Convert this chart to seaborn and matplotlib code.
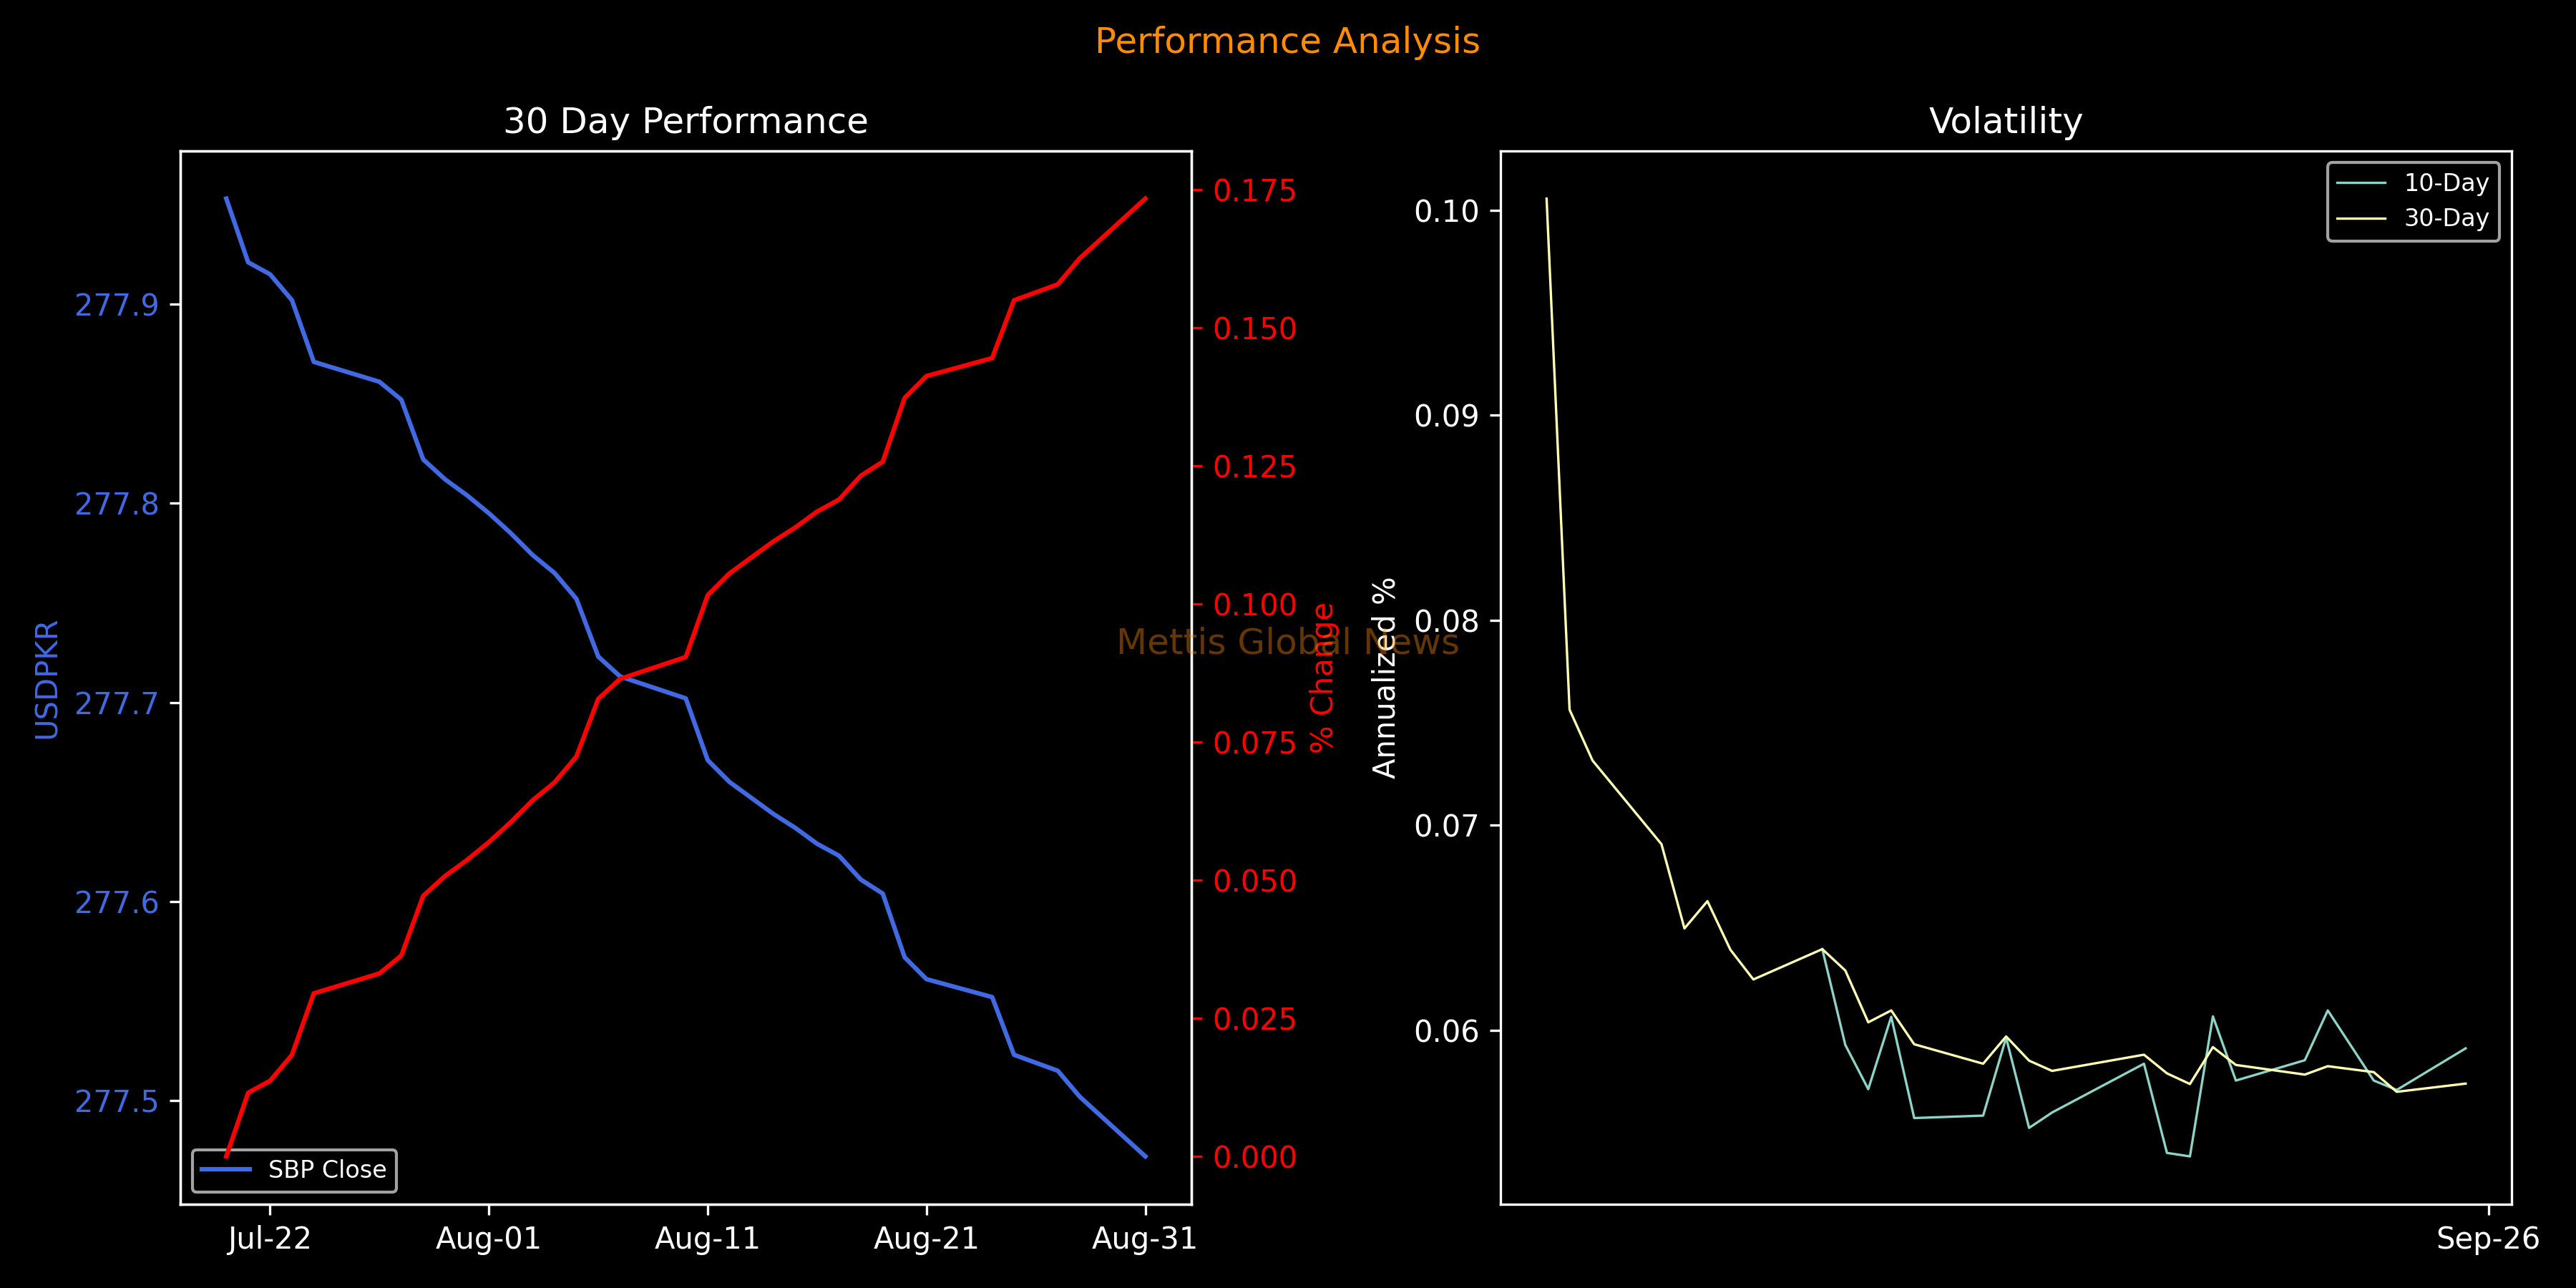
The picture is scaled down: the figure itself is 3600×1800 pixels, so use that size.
import matplotlib
matplotlib.use("Agg")
import matplotlib.pyplot as plt
import matplotlib.dates as mdates
import pandas as pd
import seaborn as sns

# USD/PKR closes (last 30 days)
close_dates = pd.to_datetime([
    "2023-07-20", "2023-07-21", "2023-07-22", "2023-07-23", "2023-07-24",
    "2023-07-27", "2023-07-28", "2023-07-29", "2023-07-30", "2023-07-31",
    "2023-08-01", "2023-08-02", "2023-08-03", "2023-08-04", "2023-08-05",
    "2023-08-06", "2023-08-07", "2023-08-10", "2023-08-11", "2023-08-12",
    "2023-08-13", "2023-08-14", "2023-08-15", "2023-08-16", "2023-08-17",
    "2023-08-18", "2023-08-19", "2023-08-20", "2023-08-21", "2023-08-24",
    "2023-08-25", "2023-08-26", "2023-08-27", "2023-08-28", "2023-08-31",
])
close_vals = [
    277.953, 277.921, 277.915, 277.902, 277.871,
    277.861, 277.852, 277.822, 277.812, 277.804,
    277.795, 277.785, 277.774, 277.765, 277.752,
    277.723, 277.713, 277.702, 277.671, 277.660,
    277.652, 277.644, 277.637, 277.629, 277.623,
    277.611, 277.604, 277.572, 277.561, 277.552,
    277.523, 277.519, 277.515, 277.502, 277.472,
]

# volatility
vol_dates = pd.to_datetime([
    "2023-08-16", "2023-08-17", "2023-08-18", "2023-08-21", "2023-08-22",
    "2023-08-23", "2023-08-24", "2023-08-25", "2023-08-28", "2023-08-29",
    "2023-08-30", "2023-08-31", "2023-09-01", "2023-09-04", "2023-09-05",
    "2023-09-06", "2023-09-07", "2023-09-11", "2023-09-12", "2023-09-13",
    "2023-09-14", "2023-09-15", "2023-09-18", "2023-09-19", "2023-09-21",
    "2023-09-22", "2023-09-25",
])
vol_30 = [
    0.10056, 0.07563, 0.07315, 0.06907, 0.06496,
    0.06629, 0.06392, 0.06247, 0.06395, 0.06291,
    0.06038, 0.06096, 0.05931, 0.05836, 0.05969,
    0.05851, 0.05801, 0.05880, 0.05789, 0.05737,
    0.05917, 0.05830, 0.05783, 0.05824, 0.05795,
    0.05699, 0.05739,
]
vol_10 = [
    None, None, None, None, None,
    None, None, None, 0.06395, 0.05928,
    0.05712, 0.06065, 0.05571, 0.05583, 0.05963,
    0.05523, 0.05598, 0.05836, 0.05401, 0.05384,
    0.06067, 0.05754, 0.05853, 0.06096, 0.05754,
    0.05708, 0.05911,
]

plt.style.use("dark_background")
plt.rcParams["font.family"] = ["DejaVu Sans"]

perf = pd.DataFrame({"date": close_dates, "close": close_vals})
perf["pct"] = (perf["close"].iloc[0] / perf["close"] - 1) * 100
vol = pd.DataFrame({"date": vol_dates, "10-Day": vol_10, "30-Day": vol_30})
vol["10-Day"] = vol["10-Day"].astype(float)

fig, (ax1, ax3) = plt.subplots(1, 2, figsize=(12, 6))
fig.subplots_adjust(left=0.07, right=0.975, top=0.883, bottom=0.065, wspace=0.306)

sns.lineplot(data=perf, x="date", y="close", ax=ax1, color="royalblue", label="SBP Close")
ax2 = ax1.twinx()
sns.lineplot(data=perf, x="date", y="pct", ax=ax2, color="red")
ax1.set_xticks(pd.date_range("2023-07-22", periods=5, freq="10D"))
ax1.xaxis.set_major_formatter(mdates.DateFormatter("%b-%d"))
ax1.set_xlabel("")
ax1.set_ylabel("USDPKR", color="royalblue")
ax1.tick_params(axis="y", labelcolor="royalblue")
ax2.set_ylabel("% Change", color="red")
ax2.tick_params(axis="y", colors="red")
ax1.set_title("30 Day Performance")
ax1.legend(loc="lower left", fontsize=8)

sns.lineplot(data=vol, x="date", y="10-Day", ax=ax3, color="#8dd3c7", linewidth=0.8, label="10-Day")
sns.lineplot(data=vol, x="date", y="30-Day", ax=ax3, color="#ffffb3", linewidth=0.8, label="30-Day")
ax3.set_xticks([pd.Timestamp("2023-09-26")])
ax3.xaxis.set_major_formatter(mdates.DateFormatter("%b-%d"))
ax3.set_xlabel("")
ax3.set_ylabel("Annualized %")
ax3.set_title("Volatility")
ax3.legend(loc="upper right", fontsize=8)

fig.suptitle("Performance Analysis", color="darkorange", fontsize=12)
fig.text(0.5, 0.5, "Mettis Global News", color="darkorange", alpha=0.4,
         fontsize=12, ha="center", va="center")

fig.savefig("out.png", dpi=300)
